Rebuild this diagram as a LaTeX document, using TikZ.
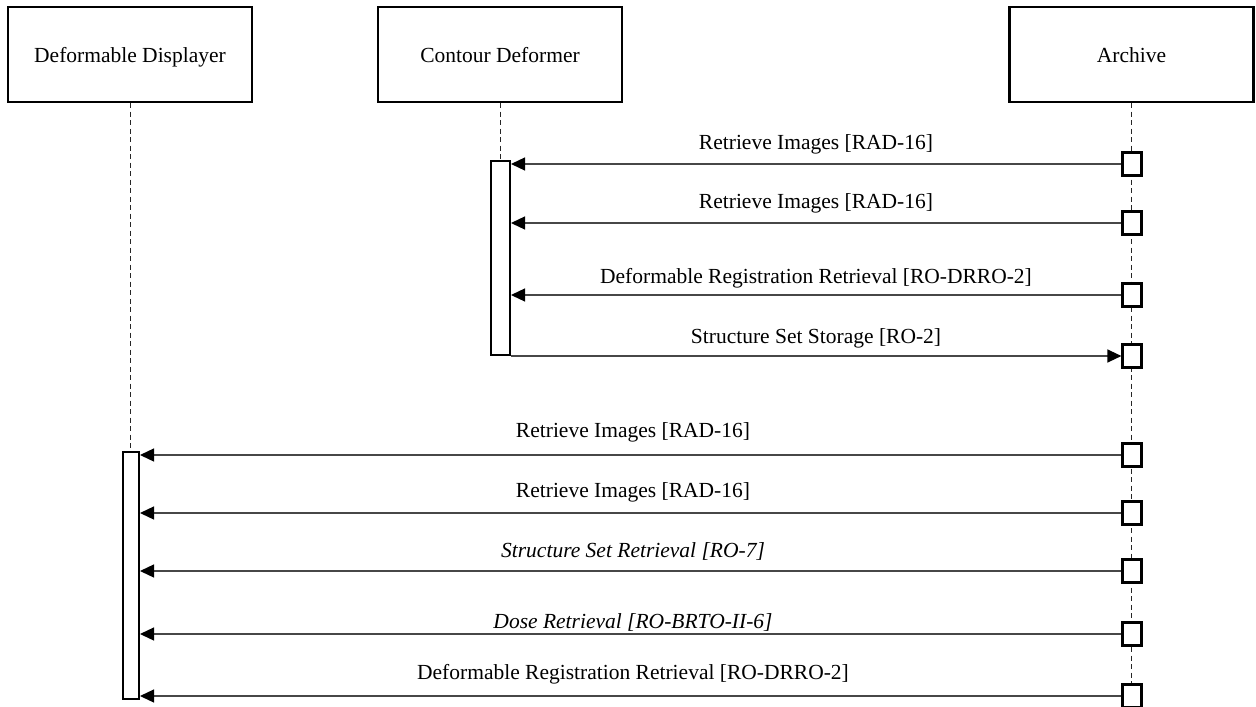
\documentclass[tikz,border=0pt]{standalone}
\usepackage{fontspec}
\setmainfont{Liberation Serif}
\usetikzlibrary{arrows.meta}

\tikzstyle{actor} = [draw=black, line width=1.1pt, minimum width=122pt, minimum height=47.5pt, text height=10.5pt, text depth=2.4pt, inner sep=0pt]
\tikzstyle{life}  = [dash pattern=on 2.5pt off 1.75pt, line width=0.5pt, draw=black!85]
\tikzstyle{bar}   = [draw=black, fill=white, line width=1pt, inner sep=0pt]
\tikzstyle{port}  = [draw=black, fill=white, line width=1.1pt, minimum width=9.5pt, minimum height=11.5pt, inner sep=0pt]
\tikzstyle{msg}   = [draw=black!72, line width=0.65pt, -{Triangle[length=7pt,width=6.5pt,color=black]}]
\tikzstyle{lbl}   = [anchor=base, inner sep=0pt]

\begin{document}
\begin{tikzpicture}[x=0.5pt, y=-0.5pt, font=\fontsize{10.75}{13}\selectfont]
      \useasboundingbox (0,0) rectangle (1256,706);
      % lifelines
      \node[actor] (disp)   at (130,54.5)    {Deformable Displayer};
      \node[actor] (deform) at (500,54.5)    {Contour Deformer};
      \node[actor] (arch)   at (1131.5,54.5) {Archive};
      \coordinate (archend) at (1131.5,706);
      \node[bar, minimum width=9.5pt, minimum height=97pt]  (cdbar) at (500.5,258) {};
      \node[bar, minimum width=8pt, minimum height=123.5pt] (ddbar) at (131,575.5) {};
      \draw[life] (disp.south)   -- (disp.south |- ddbar.north);
      \draw[life] (deform.south) -- (deform.south |- cdbar.north);
      \draw[life] (arch.south)   -- (archend);
      \foreach \n/\y in {1/164, 2/223, 3/295, 4/356, 5/455, 6/513, 7/571, 8/634, 9/696}
        \node[port] (a\n) at (1132,\y) {};
      % contour deformer
      \foreach \n in {1,2,3}
        \draw[msg] (a\n.west) -- (cdbar.east |- a\n.west);
      \draw[msg] (cdbar.south east) -- (cdbar.south east -| a4.west);
      \node[lbl] (m1) at (816,149)   {Retrieve Images [RAD-16]};
      \node[lbl] (m2) at (816,208.5) {Retrieve Images [RAD-16]};
      \node[lbl] (m3) at (816,283)   {Deformable Registration Retrieval [RO-DRRO-2]};
      \node[lbl] (m4) at (816,343)   {Structure Set Storage [RO-2]};
      % deformable displayer
      \foreach \n in {5,...,9}
        \draw[msg] (a\n.west) -- (ddbar.east |- a\n.west);
      \node[lbl] (m5) at (633,437)   {Retrieve Images [RAD-16]};
      \node[lbl] (m6) at (633,497.5) {Retrieve Images [RAD-16]};
      \node[lbl] (m7) at (633,557)   {\itshape Structure Set Retrieval [RO-7]};
      \node[lbl] (m8) at (633,628)   {\itshape Dose Retrieval [RO-BRTO-II-6]};
      \node[lbl] (m9) at (633,679)   {Deformable Registration Retrieval [RO-DRRO-2]};
    \end{tikzpicture}
\end{document}
